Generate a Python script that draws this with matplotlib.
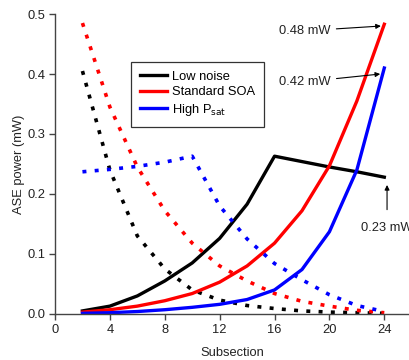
import matplotlib
matplotlib.use('Agg')
import matplotlib.pyplot as plt
import numpy as np

plt.rcParams['font.family'] = ['Liberation Sans', 'DejaVu Sans']

# subsection index
subsection = np.arange(2, 25, 2)

# forward ASE (solid)
low_noise_fwd = [0.005, 0.013, 0.030, 0.055, 0.085, 0.126, 0.183, 0.263, 0.254, 0.245, 0.237, 0.228]
standard_fwd = [0.003, 0.007, 0.013, 0.022, 0.034, 0.053, 0.080, 0.118, 0.172, 0.247, 0.355, 0.483]
high_psat_fwd = [0.001, 0.002, 0.004, 0.007, 0.011, 0.016, 0.024, 0.040, 0.074, 0.137, 0.240, 0.410]

# backward ASE (dotted)
low_noise_bwd = [0.405, 0.240, 0.130, 0.075, 0.040, 0.023, 0.014, 0.009, 0.005, 0.003, 0.002, 0.001]
standard_bwd = [0.485, 0.345, 0.245, 0.172, 0.118, 0.080, 0.055, 0.034, 0.021, 0.013, 0.006, 0.002]
high_psat_bwd = [0.237, 0.241, 0.246, 0.253, 0.263, 0.180, 0.125, 0.084, 0.057, 0.032, 0.014, 0.004]

labels = ['Low noise', 'Standard SOA', 'High P$_{\\mathrm{sat}}$']
colors = ['black', '#ff0000', '#0000ff']

fig = plt.figure(figsize=(4.09, 3.60), dpi=100)
ax = fig.add_axes([0.1345, 0.128, 0.8655, 0.833])

fwd = [low_noise_fwd, standard_fwd, high_psat_fwd]
bwd = [low_noise_bwd, standard_bwd, high_psat_bwd]
for f, b, c, lab in zip(fwd, bwd, colors, labels):
    ax.plot(subsection, f, '-', color=c, lw=2.4, label=lab)
    ax.plot(subsection, b, color=c, lw=2.6, dashes=(1.1, 2.3))

ax.set_xlim(0, 25.8)
ax.set_ylim(0, 0.5)
ax.set_xticks([0, 4, 8, 12, 16, 20, 24])
ax.set_yticks([0.0, 0.1, 0.2, 0.3, 0.4, 0.5])
ax.yaxis.set_major_formatter(matplotlib.ticker.FormatStrFormatter('%.1f'))

for s in ['top', 'right']:
    ax.spines[s].set_visible(False)
for s in ['left', 'bottom']:
    ax.spines[s].set_color('#444444')
    ax.spines[s].set_linewidth(1.0)
ax.tick_params(direction='out', length=4, width=1, color='#444444',
               labelsize=9.3, labelcolor='#222222', pad=3)

ax.set_xlabel('Subsection', fontsize=9.3, color='#222222', labelpad=8.5)
ax.set_ylabel('ASE power (mW)', fontsize=9.3, color='#222222', labelpad=1.5)

leg = ax.legend(loc='upper left', bbox_to_anchor=(0.320, 0.828),
                bbox_transform=fig.transFigure, fontsize=9.3,
                frameon=True, fancybox=False, edgecolor='black',
                handlelength=2.1, handletextpad=0.35, labelspacing=0.25,
                borderpad=0.7, borderaxespad=0)
leg.get_frame().set_linewidth(0.9)

# the 0.23 mW label runs past the right edge, as in the original figure
arrow = dict(arrowstyle='-|>', color='black', lw=0.8, mutation_scale=7,
             shrinkA=2, shrinkB=0)
ax.annotate('0.48 mW', xy=(23.75, 0.480), xytext=(16.35, 0.472),
            fontsize=9.3, color='#222222', ha='left', va='center', arrowprops=arrow)
ax.annotate('0.42 mW', xy=(23.7, 0.400), xytext=(16.35, 0.387),
            fontsize=9.3, color='#222222', ha='left', va='center', arrowprops=arrow)
ax.annotate('0.23 mW', xy=(24.2, low_noise_fwd[-1] - 0.013), xytext=(24.2, 0.143),
            fontsize=9.3, color='#222222', ha='center', va='center',
            arrowprops=dict(arrowstyle='-|>', color='black', lw=0.8,
                            mutation_scale=7, shrinkA=7, shrinkB=0))

fig.savefig('out.png', dpi=100)
